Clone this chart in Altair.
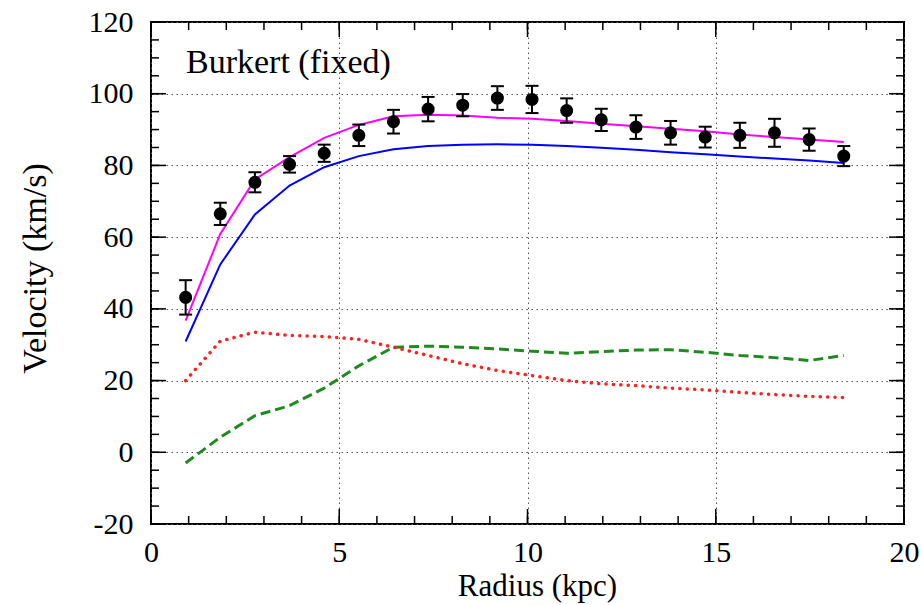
import altair as alt
import pandas as pd

# ---- data ----
radius = [0.92, 1.84, 2.76, 3.68, 4.60, 5.52, 6.44, 7.36, 8.28, 9.20,
          10.12, 11.04, 11.96, 12.88, 13.80, 14.72, 15.64, 16.56, 17.48, 18.40]
v_obs = [43.2, 66.5, 75.3, 80.3, 83.4, 88.4, 92.2, 95.7, 96.8, 98.8,
         98.4, 95.3, 92.7, 90.7, 89.1, 87.9, 88.4, 89.1, 87.2, 82.6]
v_err = [4.8, 3.1, 2.8, 2.3, 2.4, 3.0, 3.3, 3.4, 3.1, 3.3,
         3.8, 3.4, 3.1, 3.3, 3.3, 2.9, 3.5, 3.9, 3.1, 2.8]
v_total = [36.7, 60.9, 76.1, 82.3, 87.7, 91.3, 93.7, 94.1, 93.9, 93.3,
           93.0, 92.4, 91.6, 90.9, 90.2, 89.5, 88.6, 87.9, 87.2, 86.5]
v_halo = [30.9, 52.4, 66.3, 74.4, 79.5, 82.6, 84.5, 85.4, 85.8, 85.9,
          85.8, 85.4, 84.9, 84.4, 83.7, 83.1, 82.5, 81.9, 81.4, 80.7]
v_disk = [20.0, 31.0, 33.5, 32.6, 32.3, 31.5, 29.3, 27.0, 24.7, 22.8,
          21.4, 20.0, 19.1, 18.6, 17.9, 17.4, 16.7, 16.1, 15.6, 15.3]
v_gas = [-3.0, 4.2, 10.2, 13.0, 17.9, 24.1, 29.3, 29.6, 29.3, 28.8,
         28.2, 27.6, 28.1, 28.5, 28.6, 27.9, 27.0, 26.4, 25.6, 27.0]

x_major = [0, 5, 10, 15, 20]
x_minor = list(range(0, 21))
y_major = [-20, 0, 20, 40, 60, 80, 100, 120]
y_minor = list(range(-20, 121, 5))

label_text = ["Burkert (fixed)"]
label_r = [0.93]
label_v = [105.9]

# ---- layout / style ----
W, H = 753, 502
FONT = "Liberation Serif"
MAJ, MIN = 15, 8

xs = alt.Scale(domain=[0, 20], nice=False, zero=False)
ys = alt.Scale(domain=[-20, 120], nice=False, zero=False)

obs = pd.DataFrame({
    "r": radius, "v": v_obs,
    "lo": [v - e for v, e in zip(v_obs, v_err)],
    "hi": [v + e for v, e in zip(v_obs, v_err)],
})
curves = pd.DataFrame({"r": radius, "total": v_total, "halo": v_halo,
                       "disk": v_disk, "gas": v_gas})

x_axis = alt.Axis(values=x_major, title="Radius (kpc)", grid=True,
                  gridDash=[1.5, 3.5], gridColor="#555", gridWidth=1,
                  ticks=False, domain=False, labelFont=FONT, labelFontSize=30,
                  labelPadding=13, labelColor="black", labelFlush=False,
                  labelExpr="'' + datum.value",
                  titleFont=FONT, titleFontSize=31, titleFontWeight="normal",
                  titleColor="black", titlePadding=4, titleX=386)
y_axis = alt.Axis(values=y_major, title="Velocity (km/s)", grid=True,
                  gridDash=[1.5, 3.5], gridColor="#555", gridWidth=1,
                  ticks=False, domain=False, labelFont=FONT, labelFontSize=30,
                  labelPadding=18, labelColor="black", labelFlush=False,
                  labelExpr="'' + datum.value",
                  titleFont=FONT, titleFontSize=34, titleFontWeight="normal",
                  titleColor="black", titlePadding=36, titleY=246)


def X(field):
    return alt.X(field, scale=xs, axis=x_axis)


def Y(field):
    return alt.Y(field, scale=ys, axis=y_axis)


base = alt.Chart(curves)

gas = base.mark_line(color="#1f8b1f", strokeWidth=3, strokeDash=[10, 5]).encode(
    x=X("r:Q"), y=Y("gas:Q"))
disk = base.mark_line(color="#ff2020", strokeWidth=3.5, strokeDash=[0.1, 7.3],
                      strokeCap="round").encode(x=X("r:Q"), y=Y("disk:Q"))
halo = base.mark_line(color="#0000ff", strokeWidth=2).encode(x=X("r:Q"), y=Y("halo:Q"))
total = base.mark_line(color="#ff00ff", strokeWidth=2).encode(x=X("r:Q"), y=Y("total:Q"))

ob = alt.Chart(obs)
bars = ob.mark_rule(color="black", strokeWidth=2, opacity=1).encode(
    x=X("r:Q"), y=Y("lo:Q"), y2="hi:Q")
cap_lo = ob.mark_tick(color="black", orient="horizontal", size=13, thickness=2,
                      opacity=1).encode(x=X("r:Q"), y=Y("lo:Q"))
cap_hi = ob.mark_tick(color="black", orient="horizontal", size=13, thickness=2,
                      opacity=1).encode(x=X("r:Q"), y=Y("hi:Q"))
pts = ob.mark_circle(color="black", opacity=1, size=170).encode(x=X("r:Q"), y=Y("v:Q"))

lab = alt.Chart(pd.DataFrame({"r": label_r, "v": label_v, "t": label_text})).mark_text(
    align="left", baseline="alphabetic", font=FONT, fontSize=34, color="black").encode(
    x=X("r:Q"), y=Y("v:Q"), text="t:N")


def xticks(vals, length):
    d = alt.Chart(pd.DataFrame({"t": vals}))
    bot = d.mark_rule(color="black", strokeWidth=1.5).encode(
        x=X("t:Q"), y=alt.value(H), y2=alt.value(H - length))
    top = d.mark_rule(color="black", strokeWidth=1.5).encode(
        x=X("t:Q"), y=alt.value(0), y2=alt.value(length))
    return [bot, top]


def yticks(vals, length):
    d = alt.Chart(pd.DataFrame({"t": vals}))
    left = d.mark_rule(color="black", strokeWidth=1.5).encode(
        y=Y("t:Q"), x=alt.value(0), x2=alt.value(length))
    right = d.mark_rule(color="black", strokeWidth=1.5).encode(
        y=Y("t:Q"), x=alt.value(W), x2=alt.value(W - length))
    return [left, right]


tick_layers = xticks(x_minor, MIN) + xticks(x_major, MAJ) + yticks(y_minor, MIN) + yticks(y_major, MAJ)

chart = alt.layer(
    gas, disk, halo, total, bars, cap_lo, cap_hi, pts, lab, *tick_layers
).properties(
    width=W, height=H,
    autosize=alt.AutoSizeParams(type="none"),
    padding={"left": 151, "top": 22, "right": 19, "bottom": 81},
    background="white",
).configure_view(stroke="black", strokeWidth=2
).configure_axis(labelFont=FONT, titleFont=FONT
).configure_text(font=FONT)

chart.save("out.html", embed_options={"renderer": "svg", "actions": False})
